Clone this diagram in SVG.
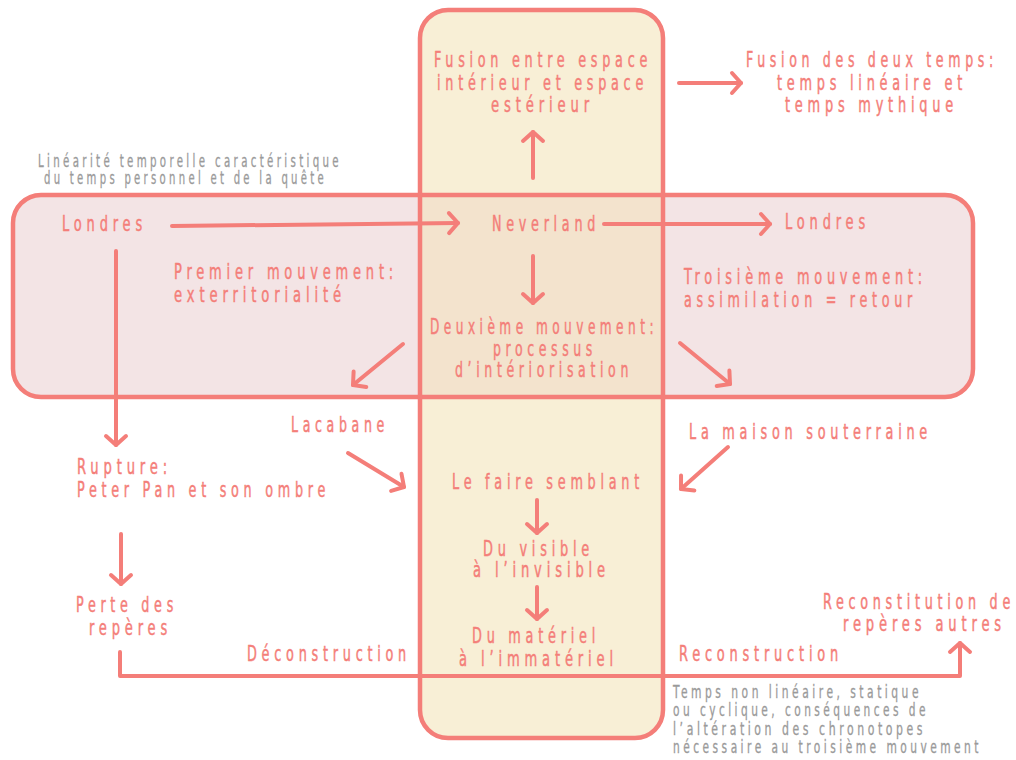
<svg xmlns="http://www.w3.org/2000/svg" width="1016" height="760" viewBox="0 0 1016 760">
<style>
.p{font-family:"DejaVu Sans Condensed","DejaVu Sans",sans-serif;font-size:21px;fill:#f47e79;stroke:#f47e79;stroke-width:0.45px;letter-spacing:7px}
.g{font-family:"DejaVu Sans Condensed","DejaVu Sans",sans-serif;font-size:17px;fill:#9a9a9a;stroke:#9a9a9a;stroke-width:0.3px;letter-spacing:5px}
.c{fill:none;stroke:#f47e79;stroke-width:4;stroke-linecap:round;stroke-linejoin:round}
.box{stroke:#f47e79;stroke-width:4.5;fill:none}
</style>
<defs>
<marker id="ah" markerUnits="userSpaceOnUse" markerWidth="30" markerHeight="30" viewBox="-15 -15 30 30" refX="0" refY="0" orient="auto" overflow="visible">
<path d="M-9,-10 L0,0 L-9,10" fill="none" stroke="#f47e79" stroke-width="4" stroke-linecap="round" stroke-linejoin="round"/>
</marker>
</defs>
<rect width="1016" height="760" fill="#ffffff"/>
<g id="panels">
<rect x="13" y="195" width="960" height="202" rx="28" fill="#f3e4e5"/>
<rect x="420" y="10" width="243" height="728" rx="28" fill="#f8efd6"/>
<rect x="420" y="195" width="243" height="202" fill="#f3e3cd"/>
<rect class="box" x="13" y="195" width="960" height="202" rx="28"/>
<rect class="box" x="420" y="10" width="243" height="728" rx="28"/>
</g>
<g id="connectors">
<path class="c" d="M172,226 L458,223" marker-end="url(#ah)"/>
<path class="c" d="M604,224 L770,224" marker-end="url(#ah)"/>
<path class="c" d="M533,178 L533,132" marker-end="url(#ah)"/>
<path class="c" d="M679,83 L741,83" marker-end="url(#ah)"/>
<path class="c" d="M533,256 L533,303" marker-end="url(#ah)"/>
<path class="c" d="M403,344 L353,385" marker-end="url(#ah)"/>
<path class="c" d="M680,343 L730,384" marker-end="url(#ah)"/>
<path class="c" d="M116,251 L116,445" marker-end="url(#ah)"/>
<path class="c" d="M121,534 L121,584" marker-end="url(#ah)"/>
<path class="c" d="M348,453 L404,487" marker-end="url(#ah)"/>
<path class="c" d="M728,447 L681,489" marker-end="url(#ah)"/>
<path class="c" d="M537,500 L537,533" marker-end="url(#ah)"/>
<path class="c" d="M537,587 L537,619" marker-end="url(#ah)"/>
<path class="c" d="M120,652 L120,676 L960,676 L960,643" marker-end="url(#ah)"/>
</g>
<g id="note-lineaire">
<text class="g" x="38" y="167" textLength="304" lengthAdjust="spacingAndGlyphs">Linéarité temporelle caractéristique</text>
<text class="g" x="44" y="184" textLength="283" lengthAdjust="spacingAndGlyphs">du temps personnel et de la quête</text>
</g>
<g id="note-temps">
<text class="g" x="673" y="698" textLength="249" lengthAdjust="spacingAndGlyphs">Temps non linéaire, statique</text>
<text class="g" x="673" y="716" textLength="256" lengthAdjust="spacingAndGlyphs">ou cyclique, conséquences de</text>
<text class="g" x="673" y="735" textLength="253" lengthAdjust="spacingAndGlyphs">l’altération des chronotopes</text>
<text class="g" x="673" y="753" textLength="309" lengthAdjust="spacingAndGlyphs">nécessaire au troisième mouvement</text>
</g>
<g id="fusion-espace">
<text class="p" x="434" y="67" textLength="218" lengthAdjust="spacingAndGlyphs">Fusion entre espace</text>
<text class="p" x="437" y="90" textLength="211" lengthAdjust="spacingAndGlyphs">intérieur et espace</text>
<text class="p" x="491" y="112" textLength="103" lengthAdjust="spacingAndGlyphs">estérieur</text>
</g>
<g id="fusion-temps">
<text class="p" x="746" y="67" textLength="252" lengthAdjust="spacingAndGlyphs">Fusion des deux temps:</text>
<text class="p" x="777" y="90" textLength="190" lengthAdjust="spacingAndGlyphs">temps linéaire et</text>
<text class="p" x="785" y="112" textLength="173" lengthAdjust="spacingAndGlyphs">temps mythique</text>
</g>
<g id="londres-1"><text class="p" x="62" y="231" textLength="85" lengthAdjust="spacingAndGlyphs">Londres</text></g>
<g id="neverland"><text class="p" x="492" y="231" textLength="108" lengthAdjust="spacingAndGlyphs">Neverland</text></g>
<g id="londres-2"><text class="p" x="785" y="229" textLength="85" lengthAdjust="spacingAndGlyphs">Londres</text></g>
<g id="premier">
<text class="p" x="174" y="279" textLength="224" lengthAdjust="spacingAndGlyphs">Premier mouvement:</text>
<text class="p" x="174" y="302" textLength="172" lengthAdjust="spacingAndGlyphs">exterritorialité</text>
</g>
<g id="deuxieme">
<text class="p" x="430" y="334" textLength="228" lengthAdjust="spacingAndGlyphs">Deuxième mouvement:</text>
<text class="p" x="493" y="356" textLength="104" lengthAdjust="spacingAndGlyphs">processus</text>
<text class="p" x="455" y="377" textLength="178" lengthAdjust="spacingAndGlyphs">d’intériorisation</text>
</g>
<g id="troisieme">
<text class="p" x="684" y="284" textLength="243" lengthAdjust="spacingAndGlyphs">Troisième mouvement:</text>
<text class="p" x="684" y="307" textLength="233" lengthAdjust="spacingAndGlyphs">assimilation = retour</text>
</g>
<g id="lacabane"><text class="p" x="291" y="432" textLength="98" lengthAdjust="spacingAndGlyphs">Lacabane</text></g>
<g id="maison"><text class="p" x="689" y="439" textLength="243" lengthAdjust="spacingAndGlyphs">La maison souterraine</text></g>
<g id="rupture">
<text class="p" x="77" y="474" textLength="95" lengthAdjust="spacingAndGlyphs">Rupture:</text>
<text class="p" x="77" y="497" textLength="253" lengthAdjust="spacingAndGlyphs">Peter Pan et son ombre</text>
</g>
<g id="faire-semblant"><text class="p" x="452" y="489" textLength="192" lengthAdjust="spacingAndGlyphs">Le faire semblant</text></g>
<g id="visible">
<text class="p" x="483" y="556" textLength="111" lengthAdjust="spacingAndGlyphs">Du visible</text>
<text class="p" x="473" y="577" textLength="137" lengthAdjust="spacingAndGlyphs">à l’invisible</text>
</g>
<g id="materiel">
<text class="p" x="472" y="643" textLength="128" lengthAdjust="spacingAndGlyphs">Du matériel</text>
<text class="p" x="459" y="666" textLength="159" lengthAdjust="spacingAndGlyphs">à l’immatériel</text>
</g>
<g id="perte">
<text class="p" x="76" y="612" textLength="102" lengthAdjust="spacingAndGlyphs">Perte des</text>
<text class="p" x="89" y="635" textLength="83" lengthAdjust="spacingAndGlyphs">repères</text>
</g>
<g id="deconstruction"><text class="p" x="247" y="661" textLength="164" lengthAdjust="spacingAndGlyphs">Déconstruction</text></g>
<g id="reconstruction"><text class="p" x="679" y="661" textLength="164" lengthAdjust="spacingAndGlyphs">Reconstruction</text></g>
<g id="reconstitution">
<text class="p" x="823" y="609" textLength="192" lengthAdjust="spacingAndGlyphs">Reconstitution de</text>
<text class="p" x="843" y="631" textLength="163" lengthAdjust="spacingAndGlyphs">repères autres</text>
</g>
</svg>
